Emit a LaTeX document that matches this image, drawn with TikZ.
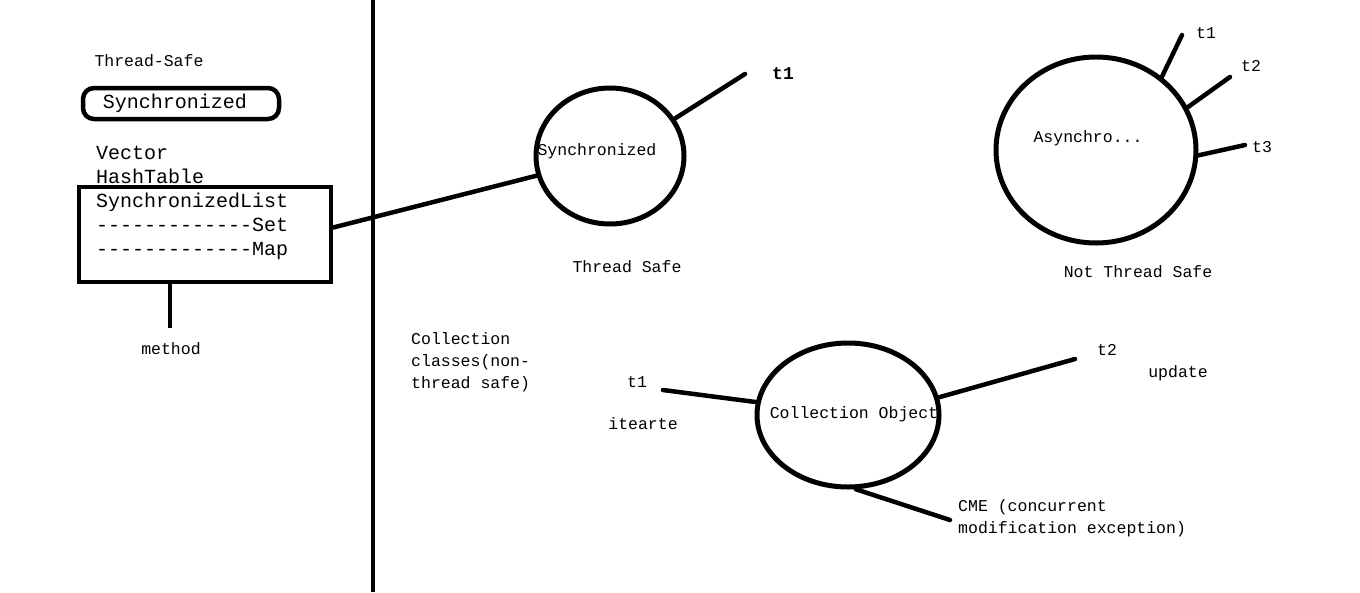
\documentclass[tikz,border=0pt]{standalone}
\usepackage{fontspec}
\setmonofont{Liberation Mono}
\renewcommand{\familydefault}{\ttdefault}
\usetikzlibrary{shapes.geometric}
\tikzset{
  ln/.style={line width=4.5pt, line cap=round},
  ring/.style={draw, ellipse, line width=5pt, inner sep=0pt},
  lbl/.style={inner sep=0pt, text height=11pt, text depth=0pt, font=\fontsize{16.5}{22}\selectfont},
  lblbig/.style={inner sep=0pt, text height=13pt, text depth=0pt, font=\fontsize{20}{24}\selectfont},
}
\begin{document}
\begin{tikzpicture}[x=1pt, y=-1pt]
\useasboundingbox (0,0) rectangle (1360,592);
% divider
\coordinate (vtop) at (373,0);
\coordinate (vbot) at (373,592);
\draw[line width=4.5pt] (vtop) -- (vbot);

% left column
\node[lbl] (ts) at (149,61) {Thread-Safe};
\node[draw, line width=4.5pt, rounded corners=11pt, minimum width=196pt, minimum height=31pt, inner sep=0pt] (syncbox) at (181,103.5) {};
\node[lblbig] (synctxt) at (175,102) {Synchronized};
\node[lblbig, anchor=west] (l1) at (96,153) {Vector};
\node[lblbig, anchor=west] (l2) at (96,177) {HashTable};
\node[lblbig, anchor=west] (l3) at (96,201) {SynchronizedList};
\node[lblbig, anchor=west] (l4) at (96,225) {-------------Set};
\node[lblbig, anchor=west] (l5) at (96,249) {-------------Map};
\node[draw, line width=4.5pt, minimum width=252pt, minimum height=95pt, inner sep=0pt] (box) at (205,234.5) {};
\node[lbl] (method) at (171,349) {method};
\coordinate (mbot) at (170,328);
\draw[line width=4.5pt] (box.south -| mbot) -- (mbot);

% circle 1
\node[ring, minimum width=148pt, minimum height=136pt] (c1) at (610,156) {};
\node[lbl] (c1t) at (597,150) {Synchronized};
\node[lbl] (c1l) at (627,267) {Thread Safe};
\draw[ln] ([yshift=7pt]box.east) -- (c1.195);
\coordinate (c1e) at (745,74);
\draw[ln] (c1.30) -- (c1e);
\node[inner sep=0pt, text height=12pt, text depth=0pt, font=\fontsize{18}{22}\selectfont\bfseries] (c1t1) at (783,73) {t1};

% circle 2
\node[ring, minimum width=200pt, minimum height=186pt] (c2) at (1096,150) {};
\node[lbl] (c2t) at (1088,137) {Asynchro...};
\node[lbl] (c2l) at (1138,272) {Not Thread Safe};
\coordinate (e1) at (1182,35);
\coordinate (e2) at (1230,77);
\coordinate (e3) at (1245,145);
\draw[ln] (c2.48) -- (e1);
\draw[ln] (c2.25) -- (e2);
\draw[ln] (c2.-3) -- (e3);
\node[lbl] (t1b) at (1206,33) {t1};
\node[lbl] (t2b) at (1251,66) {t2};
\node[lbl] (t3b) at (1262,147) {t3};

% bottom
\node[lbl, anchor=west] (cc1) at (411,339) {Collection};
\node[lbl, anchor=west] (cc2) at (411,361) {classes(non-};
\node[lbl, anchor=west] (cc3) at (411,383) {thread safe)};

\node[ring, minimum width=182pt, minimum height=144pt] (c3) at (848,415) {};
\node[lbl] (c3t) at (854,413) {Collection Object};
\node[lbl] (t1c) at (637,382) {t1};
\node[lbl] (it) at (643,424) {itearte};
\coordinate (t1ce) at (663,390);
\draw[ln] (t1ce) -- (c3.172);
\coordinate (t2ce) at (1075,359);
\draw[ln] (c3.11) -- (t2ce);
\node[lbl] (t2c) at (1107,350) {t2};
\node[lbl] (upd) at (1178,372) {update};
\coordinate (cmee) at (950,520);
\draw[ln] (c3.-84) -- (cmee);
\node[lbl, anchor=west] (cme1) at (958,506) {CME (concurrent};
\node[lbl, anchor=west] (cme2) at (958,528) {modification exception)};
\end{tikzpicture}
\end{document}
